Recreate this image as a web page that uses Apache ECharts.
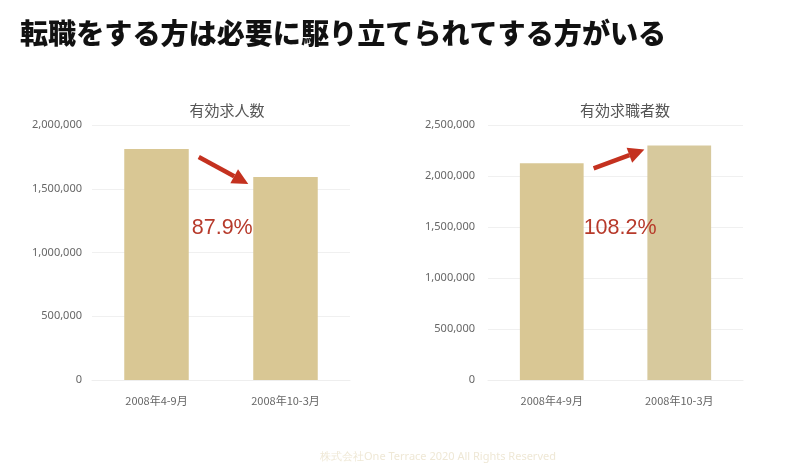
<!DOCTYPE html>
<html><head><meta charset="utf-8">
<script src="https://cdn.jsdelivr.net/npm/echarts@6/dist/echarts.min.js"></script>
<style>html,body{margin:0;padding:0;background:#fff}#c{width:800px;height:463px}</style>
</head><body><div id="c"></div>
<script>
const mainTitle = '転職をする方は必要に駆り立てられてする方がいる';
const footer = '株式会社One Terrace 2020 All Rights Reserved';
const categories = ['2008年4-9月', '2008年10-3月'];
const leftTitle = '有効求人数';
const leftValues = [1812000, 1593000];
const rightTitle = '有効求職者数';
const rightValues = [2124000, 2298000];
const leftMax = 2000000, rightMax = 2500000, yInterval = 500000;

const barColor = '#d9c794';
const fmt = v => v.toLocaleString('en-US');
const chart = echarts.init(document.getElementById('c'));
const axisLabel = {color: '#666', fontSize: 11, fontFamily: 'Noto Sans, sans-serif'};
function xAxis(g) {
  return {type: 'category', gridIndex: g, data: categories,
    axisLine: {lineStyle: {color: '#eeeeee'}}, axisTick: {show: false},
    axisLabel: {margin: 15, fontFamily: 'Noto Sans CJK JP', color: '#666', fontSize: 11}};
}
function yAxis(g, max, margin) {
  return {type: 'value', gridIndex: g, min: 0, max: max, interval: yInterval,
    axisLine: {show: false}, axisTick: {show: false},
    splitLine: {lineStyle: {color: '#f0f0f0'}},
    axisLabel: Object.assign({margin: margin, formatter: fmt}, axisLabel)};
}
chart.setOption({
  animation: false,
  title: [
    {text: mainTitle, left: 15, top: 14, textStyle: {fontSize: 28.1, fontWeight: 900, color: '#111', fontFamily: 'Noto Sans CJK JP'}},
    {text: leftTitle, left: 222, top: 98, textAlign: 'center', textStyle: {fontSize: 15, fontWeight: 'normal', color: '#555', fontFamily: 'Noto Sans CJK JP'}},
    {text: rightTitle, left: 620, top: 98, textAlign: 'center', textStyle: {fontSize: 15, fontWeight: 'normal', color: '#555', fontFamily: 'Noto Sans CJK JP'}},
    {text: footer, left: 433, top: 446, textAlign: 'center', textStyle: {fontSize: 11, fontWeight: 'normal', color: '#efe8d6', fontFamily: 'Noto Sans, sans-serif'}}
  ],
  grid: [
    {left: 92, right: 450, top: 125, bottom: 83},
    {left: 488, right: 57, top: 125, bottom: 83}
  ],
  xAxis: [xAxis(0), xAxis(1)],
  yAxis: [yAxis(0, leftMax, 10), yAxis(1, rightMax, 13)],
  series: [
    {type: 'bar', xAxisIndex: 0, yAxisIndex: 0, data: leftValues, barWidth: '50%', itemStyle: {color: barColor}},
    {type: 'bar', xAxisIndex: 1, yAxisIndex: 1, barWidth: '50%',
     data: rightValues.map((v, i) => ({value: v, itemStyle: {color: i === 1 ? '#d7c99d' : barColor}}))}
  ]
});

function arrow(x1, y1, x2, y2) {
  const ang = Math.atan2(y2 - y1, x2 - x1);
  const hl = 16, hw = 8;
  const bx = x2 - hl * Math.cos(ang), by = y2 - hl * Math.sin(ang);
  const px = -Math.sin(ang) * hw, py = Math.cos(ang) * hw;
  return [
    {type: 'line', z: 10, shape: {x1: x1, y1: y1, x2: bx, y2: by}, style: {stroke: '#c4311f', lineWidth: 4.5}},
    {type: 'polygon', z: 10, shape: {points: [[x2, y2], [bx + px, by + py], [bx - px, by - py]]}, style: {fill: '#c4311f'}}
  ];
}
function build() {
  const els = [];
  const specs = [
    {s: 0, vals: leftValues, t1: [10, 8], t2: [-5, 7], tx: 3},
    {s: 1, vals: rightValues, t1: [10, 5], t2: [-3, 4], tx: 0}
  ];
  specs.forEach(sp => {
    const p0 = chart.convertToPixel({seriesIndex: sp.s}, [0, sp.vals[0]]);
    const p1 = chart.convertToPixel({seriesIndex: sp.s}, [1, sp.vals[1]]);
    const half = (p1[0] - p0[0]) / 4;
    const r0 = p0[0] + half, l1 = p1[0] - half;
    els.push(...arrow(r0 + sp.t1[0], p0[1] + sp.t1[1], l1 + sp.t2[0], p1[1] + sp.t2[1]));
    const pct = (sp.vals[1] / sp.vals[0] * 100).toFixed(1) + '%';
    els.push({type: 'text', z: 10, x: r0 + sp.tx, y: 228, style: {text: pct, fill: '#b73a2b', fontSize: 21.5, fontFamily: 'Liberation Sans, Arial, sans-serif', align: 'left', verticalAlign: 'middle'}});
  });
  chart.setOption({graphic: {elements: els}});
}
build();
</script></body></html>
